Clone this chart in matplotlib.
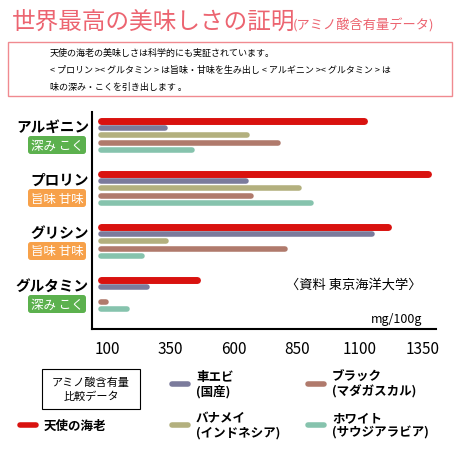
import matplotlib.pyplot as plt
from matplotlib.patches import FancyBboxPatch, Rectangle
from matplotlib.lines import Line2D

plt.rcParams['font.family'] = ['Noto Sans CJK JP', 'DejaVu Sans']

amino = ['アルギニン', 'プロリン', 'グリシン', 'グルタミン']
badges = ['深み こく', '旨味 甘味', '旨味 甘味', '深み こく']
series = ['天使の海老', '車エビ\n(国産)', 'バナメイ\n(インドネシア)', 'ブラック\n(マダガスカル)', 'ホワイト\n(サウジアラビア)']
values = [
    [1117, 1370, 1210, 456],   # 天使の海老
    [329, 649, 1149, 260],     # 車エビ
    [654, 861, 333, 0],        # バナメイ
    [776, 671, 804, 95],       # ブラック
    [436, 907, 240, 179],      # ホワイト
]
ticks = [100, 350, 600, 850, 1100, 1350]

colors = ['#d9120f', '#7b7b9c', '#b3b07e', '#b07a6c', '#86c3ad']
badge_col = {'深み こく': '#5cb14e', '旨味 甘味': '#f7a14a'}

fig = plt.figure(figsize=(4.6, 4.6), dpi=100)
H = 460.0
ax = fig.add_axes([92 / H, 1 - 330 / H, (436 - 92) / H, (330 - 113) / H])
ax.set_xlim(41, 1401)
ax.set_ylim(330, 113)
start = 76
for g in range(len(amino)):
    for k in range(len(series)):
        v = values[k][g]
        if v <= 0:
            continue
        y = 122 + g * 53 + k * 7.2
        ax.hlines(y, start, v, color=colors[k], lw=4 if k else 5, capstyle='round')
for s in ['top', 'right']:
    ax.spines[s].set_visible(False)
ax.spines['left'].set_linewidth(1.5)
ax.spines['bottom'].set_linewidth(1.5)
ax.set_yticks([])
ax.set_xticks(ticks)
ax.tick_params(axis='x', length=0, pad=8, labelsize=11)
ax.text(1345, 285, '〈資料 東京海洋大学〉', ha='right', va='center', fontsize=9.5)
ax.text(1345, 320, 'mg/100g', ha='right', va='center', fontsize=9)

for g, name in enumerate(amino):
    yp = 122 + g * 53
    fig.text(89 / H, 1 - (yp + 5) / H, name, ha='right', va='center', fontsize=10.5, fontweight='bold')
    b = FancyBboxPatch((28 / H, 1 - (yp + 33) / H), 58 / H, 18 / H,
                       boxstyle='round,pad=0,rounding_size=0.006', transform=fig.transFigure,
                       fc=badge_col[badges[g]], ec='none')
    fig.patches.append(b)
    fig.text(57 / H, 1 - (yp + 24) / H, badges[g], ha='center', va='center', fontsize=9, color='white')

# title and note
fig.text(12 / H, 1 - 22 / H, '世界最高の美味しさの証明', fontsize=17, color='#ec6470', va='center')
fig.text(293 / H, 1 - 25 / H, '(アミノ酸含有量データ)', fontsize=9.5, color='#ec6470', va='center')
fig.patches.append(Rectangle((8 / H, 1 - 97 / H), 444 / H, 54 / H, transform=fig.transFigure,
                             fc='none', ec='#f08a90', lw=1))
note = ['天使の海老の美味しさは科学的にも実証されています。',
        '< プロリン >< グルタミン > は旨味・甘味を生み出し < アルギニン >< グルタミン > は',
        '味の深み・こくを引き出します 。']
for i, t in enumerate(note):
    fig.text(50 / H, 1 - (53 + i * 17) / H, t, fontsize=6.5, va='center')

# legend
fig.patches.append(Rectangle((42 / H, 1 - 410 / H), 98 / H, 40 / H, transform=fig.transFigure,
                             fc='none', ec='black', lw=0.8))
fig.text(91 / H, 1 - 390 / H, 'アミノ酸含有量\n比較データ', ha='center', va='center', fontsize=8, linespacing=1.4)
pos = [(20, 426), (172, 385), (172, 426), (308, 385), (308, 426)]
for k, (x, y) in enumerate(pos):
    fig.lines.append(Line2D([x / H, (x + 16) / H], [1 - y / H] * 2, transform=fig.transFigure,
                            color=colors[k], lw=4, solid_capstyle='round'))
    fig.text((x + 24) / H, 1 - y / H, series[k], fontsize=9, fontweight='bold', va='center', linespacing=1.1)

fig.savefig('out.png')
